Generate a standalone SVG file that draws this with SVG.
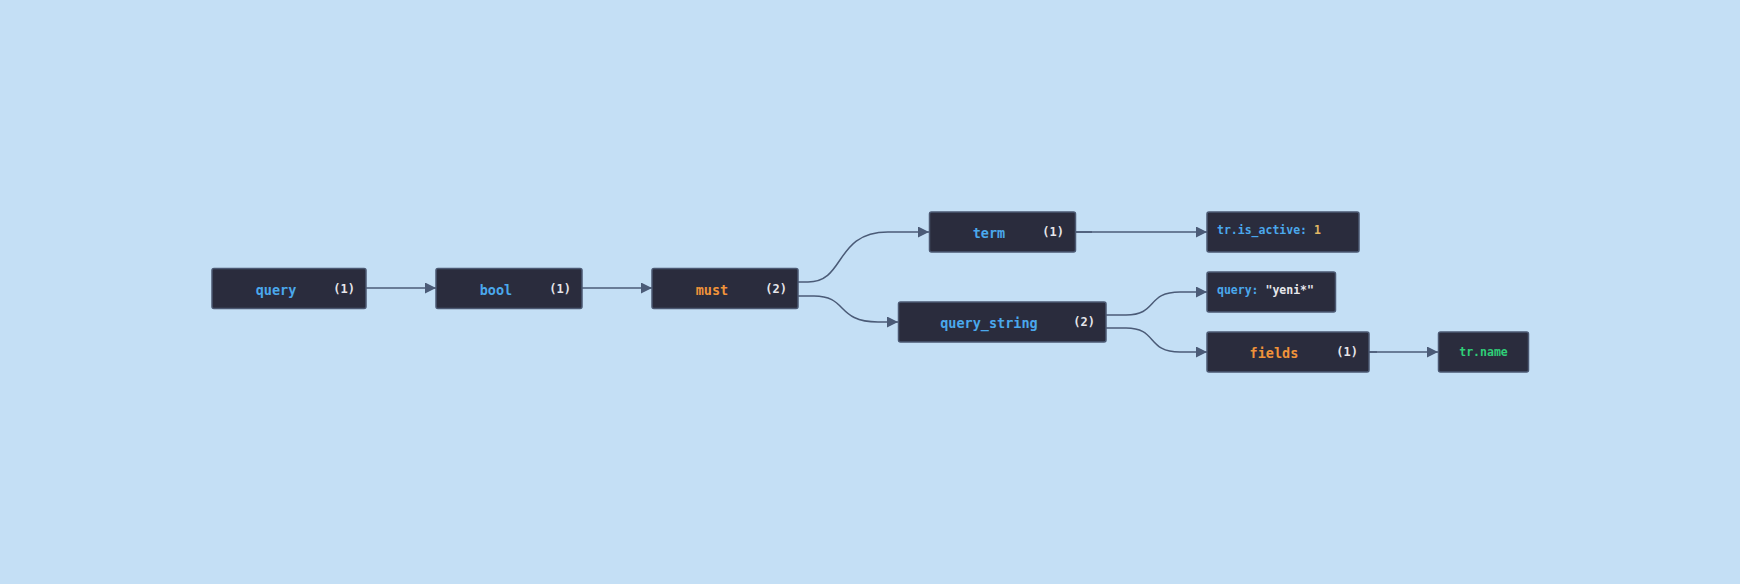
<svg xmlns="http://www.w3.org/2000/svg" width="1740" height="584" viewBox="0 0 1740 584">
<defs>
<style>
.box{fill:#2a2c3d;stroke:#4b5872;stroke-width:1.5}
.t{font-family:"DejaVu Sans Mono","Liberation Mono",monospace;font-weight:bold;dominant-baseline:central}
.lbl{font-size:13.5px;text-anchor:middle}
.cnt{font-size:12px;fill:#e6e6ea;text-anchor:end}
.val{font-size:11.5px}
.blue{fill:#4aa8ec}
.orange{fill:#f0933a}
.green{fill:#2fcf78}
.white{fill:#e6e6ea}
.yellow{fill:#e2b864}
.edge{fill:none;stroke:#4b5b77;stroke-width:1.5}
</style>
<marker id="arr" viewBox="0 0 10 10" refX="10" refY="5" markerWidth="11" markerHeight="11" markerUnits="userSpaceOnUse" orient="auto">
<path d="M0,0 L10,5 L0,10 z" fill="#4b5b77"/>
</marker>
</defs>
<rect width="1740" height="584" fill="#c4dff5"/>
<g id="connectors">
<path class="edge" d="M366,288 L436,288" marker-end="url(#arr)"/>
<path class="edge" d="M582,288 L652,288" marker-end="url(#arr)"/>
<path class="edge" d="M798,282 L808,282 C846,282 834,232 888,232 L929,232" marker-end="url(#arr)"/>
<path class="edge" d="M798,296 L814,296 C848,296 836,322 878,322 L898,322" marker-end="url(#arr)"/>
<path class="edge" d="M1076,232 L1207,232" marker-end="url(#arr)"/>
<path class="edge" d="M1076,232 L1092,232" stroke-width="2.2"/>
<path class="edge" d="M1106,315 L1126,315 C1158,315 1146,292 1180,292 L1207,292" marker-end="url(#arr)"/>
<path class="edge" d="M1106,328 L1126,328 C1158,328 1146,352 1180,352 L1207,352" marker-end="url(#arr)"/>
<path class="edge" d="M1369,352 L1438,352" marker-end="url(#arr)"/>
<path class="edge" d="M1369,352 L1377,352" stroke-width="2.2"/>
</g>
<g id="node-query">
<rect class="box" x="212" y="268.5" width="154" height="40" rx="2"/>
<text class="t lbl blue" x="276" y="289.5">query</text>
<text class="t cnt" x="355" y="288.5">(1)</text>
</g>
<g id="node-bool">
<rect class="box" x="436" y="268.5" width="146" height="40" rx="2"/>
<text class="t lbl blue" x="496" y="289.5">bool</text>
<text class="t cnt" x="571" y="288.5">(1)</text>
</g>
<g id="node-must">
<rect class="box" x="652" y="268.5" width="146" height="40" rx="2"/>
<text class="t lbl orange" x="712" y="289.5">must</text>
<text class="t cnt" x="787" y="288.5">(2)</text>
</g>
<g id="node-term">
<rect class="box" x="929.5" y="212" width="146" height="40" rx="2"/>
<text class="t lbl blue" x="989" y="233">term</text>
<text class="t cnt" x="1064" y="232">(1)</text>
</g>
<g id="node-query_string">
<rect class="box" x="898.5" y="302" width="207.5" height="40" rx="2"/>
<text class="t lbl blue" x="989" y="323">query_string</text>
<text class="t cnt" x="1095" y="322">(2)</text>
</g>
<g id="node-tr_is_active">
<rect class="box" x="1207" y="212" width="152" height="40" rx="2"/>
<text class="t val" x="1217" y="230"><tspan class="blue">tr.is_active:</tspan><tspan class="yellow"> 1</tspan></text>
</g>
<g id="node-query_value">
<rect class="box" x="1207" y="272" width="128.5" height="40" rx="2"/>
<text class="t val" x="1217" y="290"><tspan class="blue">query:</tspan><tspan class="white"> "yeni*"</tspan></text>
</g>
<g id="node-fields">
<rect class="box" x="1207" y="332" width="162" height="40" rx="2"/>
<text class="t lbl orange" x="1274" y="353">fields</text>
<text class="t cnt" x="1358" y="352">(1)</text>
</g>
<g id="node-tr_name">
<rect class="box" x="1438.5" y="332" width="90" height="40" rx="2"/>
<text class="t val green" x="1483.5" y="352" text-anchor="middle">tr.name</text>
</g>
</svg>
